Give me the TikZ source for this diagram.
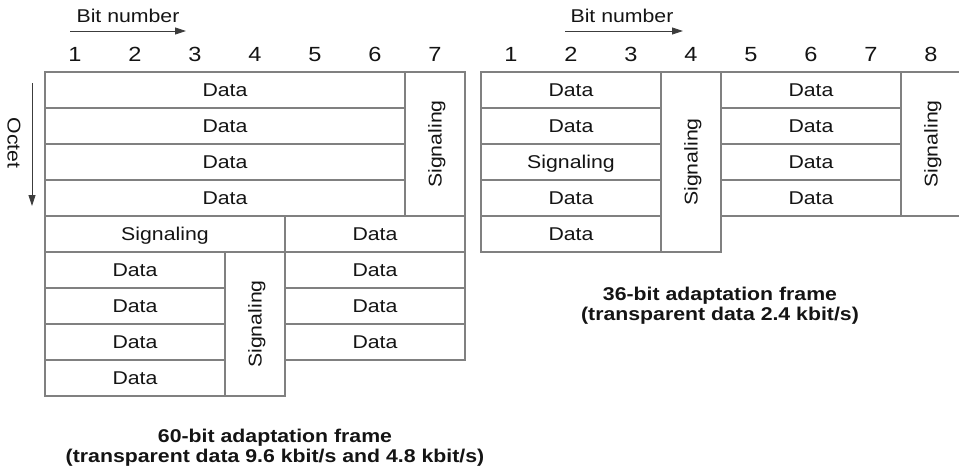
\documentclass[tikz,border=0pt]{standalone}
\usepackage{fontspec}
\setmainfont{Liberation Sans}[FakeStretch=1.15]
\usetikzlibrary{arrows.meta}
\definecolor{framegray}{RGB}{128,128,128}
\definecolor{textblack}{RGB}{20,20,20}
\definecolor{arrgray}{RGB}{60,60,60}
\newcommand\celltxt{\fontsize{18.5}{20}\selectfont}
\newcommand\numtxt{\fontsize{20.5}{21}\selectfont}
\begin{document}
\begin{tikzpicture}[x=1pt,y=-1pt,
  cell/.style={draw=framegray, line width=1.2pt, inner sep=0pt, anchor=center, font=\celltxt, text=textblack, text height=13.2pt, text depth=0pt},
  vcell/.style={cell, rotate=90},
  num/.style={font=\numtxt, text=textblack, inner sep=0pt, text height=14.7pt, text depth=0pt},
  lbl/.style={font=\celltxt, text=textblack, inner sep=0pt},
  ttl/.style={font=\celltxt\bfseries, text=textblack, align=center, inner sep=0pt},
  arr/.style={draw=arrgray, line width=0.9pt, -{Triangle[length=11pt,width=7pt]}}
]
\useasboundingbox (0,0) rectangle (959,474);
% ---------- left frame (60-bit) ----------
\node[cell, minimum width=360pt, minimum height=36pt] (L1) at (225,90) {Data};
\node[cell, minimum width=360pt, minimum height=36pt] (L2) at (225,126) {Data};
\node[cell, minimum width=360pt, minimum height=36pt] (L3) at (225,162) {Data};
\node[cell, minimum width=360pt, minimum height=36pt] (L4) at (225,198) {Data};
\node[vcell, minimum width=144pt, minimum height=60pt] (LS7) at (435,144) {Signaling};
\node[cell, minimum width=240pt, minimum height=36pt] (LS5) at (165,234) {Signaling};
\node[cell, minimum width=180pt, minimum height=36pt] (L5) at (375,234) {Data};
\node[cell, minimum width=180pt, minimum height=36pt] (L6a) at (135,270) {Data};
\node[cell, minimum width=180pt, minimum height=36pt] (L7a) at (135,306) {Data};
\node[cell, minimum width=180pt, minimum height=36pt] (L8a) at (135,342) {Data};
\node[cell, minimum width=180pt, minimum height=36pt] (L9a) at (135,378) {Data};
\node[vcell, minimum width=144pt, minimum height=60pt] (LS4) at (255,324) {Signaling};
\node[cell, minimum width=180pt, minimum height=36pt] (L6b) at (375,270) {Data};
\node[cell, minimum width=180pt, minimum height=36pt] (L7b) at (375,306) {Data};
\node[cell, minimum width=180pt, minimum height=36pt] (L8b) at (375,342) {Data};
% bit numbers
\foreach \i [evaluate=\i as \xx using 15+60*\i] in {1,...,7}
  \node[num] (LN\i) at (\xx,54) {\i};
\node[lbl] (LBN) at (128,16) {Bit number};
\coordinate (LA1) at (70,31);
\coordinate (LA2) at (186,31);
\draw[arr] (LA1) -- (LA2);
\node[lbl, rotate=-90] (OCT) at (14,143) {Octet};
\coordinate (OA1) at (32,83);
\coordinate (OA2) at (32,206);
\draw[arr] (OA1) -- (OA2);
\node[ttl] (LT) at (275,448) {60-bit adaptation frame\\(transparent data 9.6 kbit/s and 4.8 kbit/s)};
% ---------- right frame (36-bit) ----------
\node[cell, minimum width=180pt, minimum height=36pt] (R1) at (571,90) {Data};
\node[cell, minimum width=180pt, minimum height=36pt] (R2) at (571,126) {Data};
\node[cell, minimum width=180pt, minimum height=36pt] (RS3) at (571,162) {Signaling};
\node[cell, minimum width=180pt, minimum height=36pt] (R4) at (571,198) {Data};
\node[cell, minimum width=180pt, minimum height=36pt] (R5) at (571,234) {Data};
\node[vcell, minimum width=180pt, minimum height=60pt] (RS4) at (691,162) {Signaling};
\node[cell, minimum width=180pt, minimum height=36pt] (R1b) at (811,90) {Data};
\node[cell, minimum width=180pt, minimum height=36pt] (R2b) at (811,126) {Data};
\node[cell, minimum width=180pt, minimum height=36pt] (R3b) at (811,162) {Data};
\node[cell, minimum width=180pt, minimum height=36pt] (R4b) at (811,198) {Data};
\node[vcell, minimum width=144pt, minimum height=60pt] (RS8) at (931,144) {Signaling};
\foreach \i [evaluate=\i as \xx using 451+60*\i] in {1,...,8}
  \node[num] (RN\i) at (\xx,54) {\i};
\node[lbl] (RBN) at (622,16) {Bit number};
\coordinate (RA1) at (565,31);
\coordinate (RA2) at (683,31);
\draw[arr] (RA1) -- (RA2);
\node[ttl] (RT) at (720,306) {36-bit adaptation frame\\(transparent data 2.4 kbit/s)};
\end{tikzpicture}
\end{document}
